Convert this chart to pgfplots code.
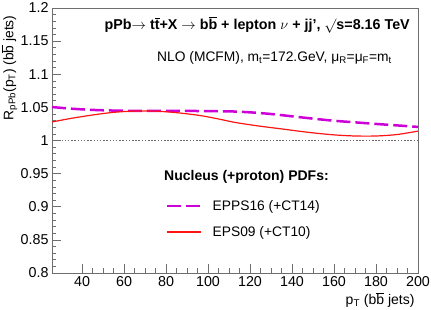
\documentclass[border=0pt]{standalone}
\usepackage{pgfplots}
\pgfplotsset{compat=1.18}
\usepackage{fontspec}
\setmainfont{Liberation Sans}
\definecolor{mag}{RGB}{205,0,215}
\definecolor{rred}{RGB}{255,20,20}
\definecolor{frame}{RGB}{110,110,110}
\newcommand{\obar}[1]{\ensuremath{\overline{\mbox{#1}}}}
\begin{document}
\begin{tikzpicture}
\path[use as bounding box] (-52pt,-37pt) rectangle (379pt,273pt);
\begin{axis}[
  at={(0pt,0pt)}, anchor=south west,
  scale only axis, width=366pt, height=265pt,
  xmin=25.7, xmax=200, ymin=0.8, ymax=1.2,
  xtick={40,60,80,100,120,140,160,180,200},
  ytick={0.8,0.85,0.9,0.95,1,1.05,1.1,1.15,1.2},
  minor x tick num=3, minor y tick num=4,
  xtick pos=left, ytick pos=left,
  tick align=inside,
  major tick length=9pt, minor tick length=4.5pt,
  tick style={frame, line width=0.6pt},
  axis line style={frame, line width=0.7pt},
  /pgf/number format/assume math mode=true,
  /pgf/number format/fixed,
  ticklabel style={font=\fontsize{14.3}{16}\selectfont},
  xlabel={p\textsubscript{T} (b\obar{b} jets)},
  ylabel={R\textsubscript{pPb}(p\textsubscript{T}) (b\obar{b} jets)},
  every axis x label/.style={at={(axis description cs:1,0)}, anchor=north east, yshift=-16pt, font=\fontsize{14}{16}\selectfont},
  every axis y label/.style={at={(axis description cs:-0.0847,0.985)}, anchor=south east, rotate=90, font=\fontsize{13.8}{16}\selectfont},
  legend style={at={(axis description cs:0.3115,0.275)}, anchor=north west, draw=none, fill=none,
    inner sep=0pt, nodes={inner sep=0pt}, column sep=10pt, row sep=14.5pt,
    font=\fontsize{13.8}{15}\selectfont},
  legend cell align=left,
  legend image code/.code={\draw[#1] (0pt,0pt) -- (34pt,0pt);},
]
\addplot[mag, line width=2.5pt, dash pattern=on 14pt off 5pt, smooth] coordinates {
(25.7,1.0505) (35,1.0480) (45,1.0462) (55,1.0452) (65,1.0447) (75,1.0446) (85,1.0446) (96,1.0445) (105,1.0442) (112,1.0438) (120,1.0425) (130,1.0400) (140,1.0365) (150,1.0330) (160,1.0298) (170,1.0274) (180,1.0250) (190,1.0228) (200,1.0205)};
\addlegendentry{EPPS16 (+CT14)}
\addplot[rred, line width=1.2pt, smooth] coordinates {
(25.7,1.0280) (35,1.0335) (45,1.0385) (55,1.0425) (65,1.0444) (75,1.0443) (85,1.0420) (96,1.0378) (105,1.0325) (113,1.0272) (125,1.0215) (135,1.0175) (142,1.0146) (150,1.0115) (160,1.0085) (170,1.0068) (180,1.0068) (190,1.0090) (200,1.0142)};
\addlegendentry{EPS09 (+CT10)}
\addplot[gray!85!black, line width=1pt, dash pattern=on 1.5pt off 1.7pt, forget plot] coordinates {(25.7,1) (200,1)};
\node[anchor=east, font=\bfseries\fontsize{14.3}{16}\selectfont, inner sep=0pt] at (axis description cs:0.978,0.936)
  {pPb$\rightarrow$ t\obar{t}+X $\rightarrow$ b\obar{b} + lepton $\nu$ + jj', $\surd$s=8.16 TeV};
\node[anchor=west, font=\fontsize{13.8}{15}\selectfont, inner sep=0pt] at (axis description cs:0.287,0.811)
  {NLO (MCFM), m\textsubscript{t}=172.GeV, μ\textsubscript{R}=μ\textsubscript{F}=m\textsubscript{t}};
\node[anchor=west, font=\bfseries\fontsize{14}{16}\selectfont, inner sep=0pt] at (axis description cs:0.306,0.362)
  {Nucleus (+proton) PDFs:};
\end{axis}
\end{tikzpicture}
\end{document}
